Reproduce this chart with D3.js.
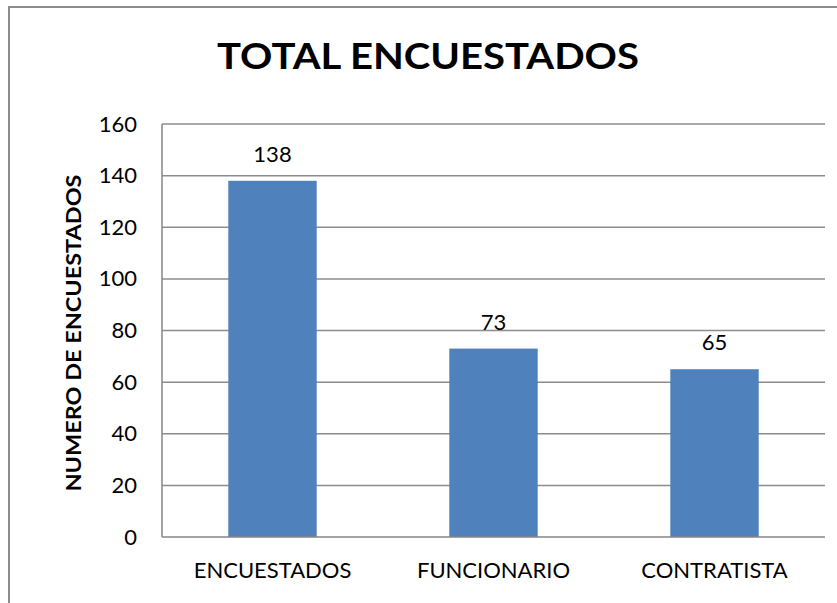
<!DOCTYPE html>
<html>
<head>
<meta charset="utf-8">
<script src="https://cdn.jsdelivr.net/npm/d3@7"></script>
<style>
  html, body { margin: 0; padding: 0; background: #fff; }
  svg { display: block; }
  text { font-family: Lato, "Open Sans", sans-serif; fill: #000; }
</style>
</head>
<body>
<svg id="chart" width="837" height="603"></svg>
<script>
const categories = ["ENCUESTADOS", "FUNCIONARIO", "CONTRATISTA"];
const values = [138, 73, 65];
const yTicks = [0, 20, 40, 60, 80, 100, 120, 140, 160];
const title = "TOTAL ENCUESTADOS";
const yTitle = "NUMERO DE ENCUESTADOS";

const W = 837, H = 603;
const plot = { left: 162, right: 825, top: 124, bottom: 537 };
const svg = d3.select("#chart");

// outer border
svg.append("rect")
  .attr("x", 9).attr("y", 7)
  .attr("width", W + 10).attr("height", H + 10)
  .attr("fill", "#fff").attr("stroke", "#8c8c8c").attr("stroke-width", 2);

const x = d3.scaleBand().domain(categories).range([plot.left, plot.right]).padding(0);
const y = d3.scaleLinear().domain([0, 160]).range([plot.bottom, plot.top]);
const barW = x.bandwidth() * 0.4;

// gridlines
svg.append("g").selectAll("line").data(yTicks.filter(d => d > 0)).join("line")
  .attr("x1", plot.left).attr("x2", plot.right)
  .attr("y1", d => y(d)).attr("y2", d => y(d))
  .attr("stroke", "#8c8c8c").attr("stroke-width", 1.5);

// bars
svg.append("g").selectAll("rect").data(values).join("rect")
  .attr("x", (d, i) => x(categories[i]) + x.bandwidth() / 2 - barW / 2)
  .attr("width", barW)
  .attr("y", d => y(d))
  .attr("height", d => y(0) - y(d))
  .attr("fill", "#4F81BD");

// axis lines
svg.append("line").attr("x1", plot.left).attr("x2", plot.left)
  .attr("y1", plot.top).attr("y2", plot.bottom)
  .attr("stroke", "#868686").attr("stroke-width", 1.5);
svg.append("line").attr("x1", plot.left).attr("x2", plot.right)
  .attr("y1", plot.bottom).attr("y2", plot.bottom)
  .attr("stroke", "#868686").attr("stroke-width", 1.5);

// y tick labels
const yAxis = d3.axisLeft(y).tickValues(yTicks).tickSize(0).tickPadding(25);
const gy = svg.append("g").attr("transform", `translate(${plot.left},0)`).call(yAxis);
gy.select(".domain").remove();
gy.selectAll("text").style("font-size", "22px").style("font-family", "Lato, sans-serif").attr("fill", "#000");

// x category labels
const xAxis = d3.axisBottom(x).tickSize(0).tickPadding(25);
const gx = svg.append("g").attr("transform", `translate(0,${plot.bottom})`).call(xAxis);
gx.select(".domain").remove();
gx.selectAll("text").style("font-size", "22px").style("font-family", "Lato, sans-serif").attr("fill", "#000");

// data labels
svg.append("g").selectAll("text").data(values).join("text")
  .attr("x", (d, i) => x(categories[i]) + x.bandwidth() / 2)
  .attr("y", d => y(d) - 19)
  .attr("text-anchor", "middle")
  .style("font-size", "22px")
  .text(d => d);

// title
svg.append("text")
  .attr("x", 428).attr("y", 69)
  .attr("text-anchor", "middle")
  .attr("textLength", 422).attr("lengthAdjust", "spacingAndGlyphs")
  .style("font-size", "37px").style("font-weight", "bold")
  .text(title);

// y axis title
svg.append("text")
  .attr("transform", "translate(81,333) rotate(-90)")
  .attr("text-anchor", "middle")
  .attr("textLength", 317).attr("lengthAdjust", "spacingAndGlyphs")
  .style("font-size", "20px").style("font-weight", "bold")
  .text(yTitle);
</script>
</body>
</html>
